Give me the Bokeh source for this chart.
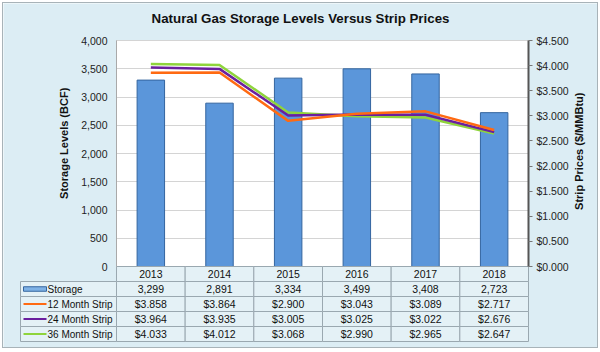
import math
from bokeh.plotting import figure
from bokeh.models import (Range1d, LinearAxis, NumeralTickFormatter, FixedTicker,
                          BoxAnnotation, Grid, Label)
from bokeh.layouts import column
from bokeh.embed import file_html
from bokeh.resources import INLINE
from bokeh.core.properties import value

# ---------------- data ----------------
years = ["2013", "2014", "2015", "2016", "2017", "2018"]
storage = [3299, 2891, 3334, 3499, 3408, 2723]
strip12 = [3.858, 3.864, 2.900, 3.043, 3.089, 2.717]
strip24 = [3.964, 3.935, 3.005, 3.025, 3.022, 2.676]
strip36 = [4.033, 4.012, 3.068, 2.990, 2.965, 2.647]
series_names = ["Storage", "12 Month Strip", "24 Month Strip", "36 Month Strip"]
left_ticks = [0, 500, 1000, 1500, 2000, 2500, 3000, 3500, 4000]
right_ticks = [0, 0.5, 1.0, 1.5, 2.0, 2.5, 3.0, 3.5, 4.0, 4.5]
STORAGE_MAX = 4000
PRICE_MAX = 4.5
title_text = "Natural Gas Storage Levels Versus Strip Prices"
left_label = "Storage Levels (BCF)"
right_label = "Strip Prices ($/MMBtu)"

# ---------------- style / layout constants (pixels) ----------------
BG = "#dcedf4"
CELL = "#e4f1f6"
GRIDC = "#9aa8b0"
FONT = "Liberation Sans"
BAR_FILL = "#5b96da"
BAR_LINE = "#34659f"
C12 = "#ff6a12"
C24 = "#6a1f9e"
C36 = "#8fd43c"

FIG_W, FIG_H = 594, 344       # drawing area inside the 3px margin+border
OX, OY = 3, 3                 # page offset of the drawing area
PLOT_L, PLOT_R = 116, 528     # chart area, page px
PLOT_T, PLOT_B = 40, 266
ROW_H = 15.0
TAB_L = 20                    # left edge of the table label column
TITLE_Y = 18
LEFT_LABEL_X, RIGHT_LABEL_X = 63, 578

N = len(years)
UX = (PLOT_R - PLOT_L) / N                      # px per category
SY = STORAGE_MAX / (PLOT_B - PLOT_T)            # storage units per px
PY = PRICE_MAX / (PLOT_B - PLOT_T)              # price units per px
nser = len(series_names)
TAB_B = PLOT_B + ROW_H * (nser + 1)

xs = list(range(N))
x0 = -0.5 - (PLOT_L - OX) / UX
x1 = N - 0.5 + (OX + FIG_W - PLOT_R) / UX
s_top = STORAGE_MAX + (PLOT_T - OY) * SY
s_bot = -(OY + FIG_H - PLOT_B) * SY
p_top = PRICE_MAX + (PLOT_T - OY) * PY
p_bot = -(OY + FIG_H - PLOT_B) * PY
t_top = (TAB_B - OY) / ROW_H
t_bot = -(OY + FIG_H - TAB_B) / ROW_H
x_left = -0.5 - (PLOT_L - TAB_L) / UX

p = figure(width=FIG_W, height=FIG_H,
           x_range=Range1d(x0, x1), y_range=Range1d(s_bot, s_top),
           output_backend="svg", toolbar_location=None,
           x_axis_location=None, y_axis_location=None,
           min_border_left=0, min_border_right=0,
           min_border_top=0, min_border_bottom=0,
           background_fill_color=BG, border_fill_color=BG,
           outline_line_color=None)

p.extra_y_ranges = {"price": Range1d(p_bot, p_top),
                    "table": Range1d(t_bot, t_top)}

# white plot area
p.add_layout(BoxAnnotation(left=-0.5, right=N - 0.5, bottom=0, top=STORAGE_MAX,
                           fill_color="white", fill_alpha=1.0,
                           line_color="#a9a9a9", line_width=1, level="image"))

p.grid.visible = False
g = Grid(dimension=1, ticker=FixedTicker(ticks=left_ticks),
         grid_line_color="#d4d4d4", bounds=(0, STORAGE_MAX),
         cross_bounds=(-0.5, N - 0.5))
p.add_layout(g, "center")

ya = LinearAxis(ticker=FixedTicker(ticks=left_ticks),
                formatter=NumeralTickFormatter(format="0,0"),
                fixed_location=-0.5, bounds=(0, STORAGE_MAX))
ya.major_label_text_font = FONT
ya.major_label_text_font_size = "10.5px"
ya.major_label_text_color = "#222222"
ya.major_label_standoff = 9
ya.major_tick_out = 0
ya.major_tick_in = 0
ya.minor_tick_out = 0
ya.minor_tick_in = 0
ya.axis_line_color = "#a9a9a9"
p.add_layout(ya, "left")

ra = LinearAxis(y_range_name="price",
                ticker=FixedTicker(ticks=right_ticks),
                formatter=NumeralTickFormatter(format="$0.000"),
                fixed_location=N - 0.5, bounds=(0, PRICE_MAX))
ra.major_label_text_font = FONT
ra.major_label_text_font_size = "10.5px"
ra.major_label_text_color = "#222222"
ra.major_label_standoff = 4
ra.major_tick_out = 4
ra.major_tick_in = 0
ra.minor_tick_out = 0
ra.minor_tick_in = 0
ra.axis_line_color = "#555555"
ra.axis_line_width = 2
ra.major_tick_line_color = "#777777"
p.add_layout(ra, "right")

# title and axis titles
p.add_layout(Label(x=(x0 + x1) / 2, y=STORAGE_MAX + (PLOT_T - TITLE_Y) * SY,
                   text=title_text, text_align="center", text_baseline="middle",
                   text_font=FONT, text_font_size="13.3px", text_font_style="bold",
                   text_color="#111111"))
p.add_layout(Label(x=-0.5 - (PLOT_L - LEFT_LABEL_X) / UX, y=STORAGE_MAX * 0.545,
                   text=left_label,
                   angle=math.pi / 2, text_align="center", text_baseline="middle",
                   text_font=FONT, text_font_size="11px", text_font_style="bold",
                   text_color="#111111"))
p.add_layout(Label(x=N - 0.5 + (RIGHT_LABEL_X - PLOT_R) / UX, y=PRICE_MAX * 0.51,
                   y_range_name="price", text=right_label,
                   angle=math.pi / 2, text_align="center", text_baseline="middle",
                   text_font=FONT, text_font_size="11px", text_font_style="bold",
                   text_color="#111111"))

p.vbar(x=xs, top=storage, width=0.4, fill_color=BAR_FILL, line_color=BAR_LINE, line_width=1)
p.line(xs, strip36, y_range_name="price", line_color=C36, line_width=2.5)
p.line(xs, strip24, y_range_name="price", line_color=C24, line_width=2.5)
p.line(xs, strip12, y_range_name="price", line_color=C12, line_width=2.5)

# ---------------- data table (row 0 = bottom) ----------------
T = "table"
p.quad(left=[i - 0.5 for i in xs], right=[i + 0.5 for i in xs],
       bottom=[nser] * N, top=[nser + 1] * N, y_range_name=T,
       fill_color=CELL, line_color=GRIDC, line_width=1)
p.text(x=xs, y=[nser + 0.5] * N, text=years, y_range_name=T,
       text_align="center", text_baseline="middle",
       text_font=value(FONT), text_font_size="10.5px", text_color="#111111")

rows_vals = [
    ["{:,}".format(v) for v in storage],
    ["${:.3f}".format(v) for v in strip12],
    ["${:.3f}".format(v) for v in strip24],
    ["${:.3f}".format(v) for v in strip36],
]
for r, vals in enumerate(rows_vals):
    yb = nser - 1 - r
    p.quad(left=[x_left] + [i - 0.5 for i in xs],
           right=[-0.5] + [i + 0.5 for i in xs],
           bottom=[yb] * (N + 1), top=[yb + 1] * (N + 1), y_range_name=T,
           fill_color=CELL, line_color=GRIDC, line_width=1)
    p.text(x=xs, y=[yb + 0.5] * N, text=vals, y_range_name=T,
           text_align="center", text_baseline="middle",
           text_font=value(FONT), text_font_size="10.5px", text_color="#111111")

# legend keys in the label column
px = 1.0 / UX
key_l = x_left + 3 * px
key_r = x_left + 26 * px
txt_x = x_left + 27 * px
ystor = nser - 1 + 0.5
p.quad(left=[key_l], right=[key_r], bottom=[ystor - 0.15], top=[ystor + 0.15],
       y_range_name=T, fill_color="#7fb2e6", line_color=BAR_LINE, line_width=1)
for r, col in zip([1, 2, 3], [C12, C24, C36]):
    yc = nser - 1 - r + 0.5
    p.segment(x0=[key_l], y0=[yc], x1=[key_r], y1=[yc], y_range_name=T,
              line_color=col, line_width=2)
p.text(x=[txt_x] * nser, y=[nser - 1 - r + 0.5 for r in range(nser)],
       text=series_names, y_range_name=T, text_align="left", text_baseline="middle",
       text_font=value(FONT), text_font_size="10px", text_color="#111111")

layout = column(p, styles={"margin": "2px", "border": "1px solid #a8b3b8"})

open("out.html", "w").write(file_html(layout, INLINE))
